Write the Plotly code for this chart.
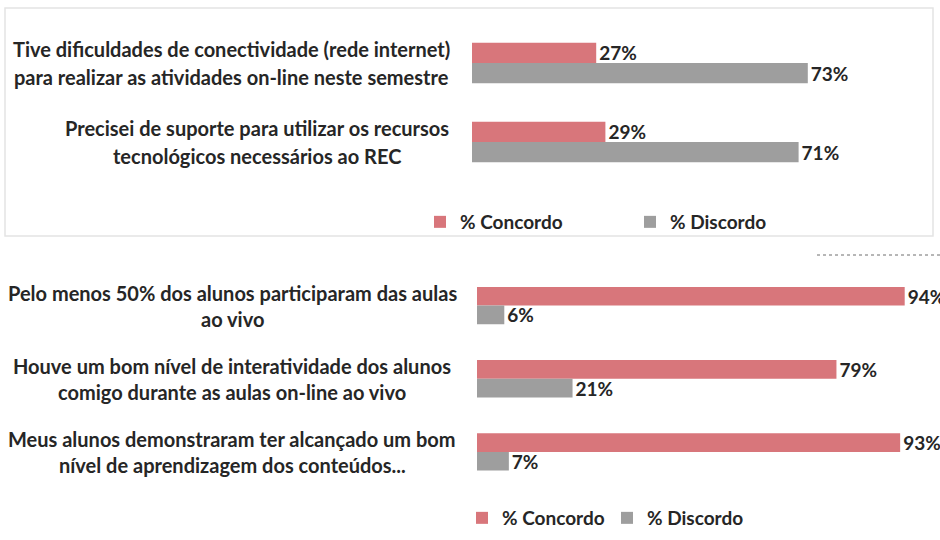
import plotly.graph_objects as go

# ---------------- data ----------------
series_names = ["% Concordo", "% Discordo"]

top_categories = [
    "Tive dificuldades de conectividade (rede internet)<br>para realizar as atividades on-line neste semestre",
    "Precisei de suporte para utilizar os recursos<br>tecnológicos necessários ao REC",
]
top_concordo = [27, 29]
top_discordo = [73, 71]

bottom_categories = [
    "Pelo menos 50% dos alunos participaram das aulas<br>ao vivo",
    "Houve um bom nível de interatividade dos alunos<br>comigo durante as aulas on-line ao vivo",
    "Meus alunos demonstraram ter alcançado um bom<br>nível de aprendizagem dos conteúdos...",
]
bottom_concordo = [94, 79, 93]
bottom_discordo = [6, 21, 7]

# ---------------- style ----------------
W, H = 940, 540
RED = "#D8767B"
GRAY = "#9E9E9E"
TXT = "#262626"
FONT = "Lato"

def fx(p):
    return p / W

def fy(p):
    return 1 - p / H

fig = go.Figure()

def add_bars(cats, conc, disc, xa, ya, legend):
    for name, vals, col in zip(series_names, [conc, disc], [RED, GRAY]):
        fig.add_trace(go.Bar(
            y=cats, x=vals, name=name, orientation="h",
            marker=dict(color=col, line=dict(width=0)),
            text=[f"{v}%" for v in vals], textposition="outside",
            textfont=dict(family=FONT, size=19, color=TXT, weight="bold"),
            cliponaxis=False, constraintext="none",
            xaxis=xa, yaxis=ya, legend=legend,
        ))

add_bars(top_categories, top_concordo, top_discordo, "x", "y", "legend")
add_bars(bottom_categories, bottom_concordo, bottom_discordo, "x2", "y2", "legend2")

# category labels (centered lines, block right aligned)
top_centers = [231, 257]
bottom_centers = [232, 232, 232]
for cats, centers, yref, dy in [(top_categories, top_centers, "y", 14),
                                (bottom_categories, bottom_centers, "y2", 13)]:
    for cat, cx in zip(cats, centers):
        lines = cat.split("<br>")
        n = len(lines)
        for i, line in enumerate(lines):
            off = (i - (n - 1) / 2) * 2 * dy
            fig.add_annotation(
                x=fx(cx), xref="paper", y=cat, yref=yref,
                text=line, showarrow=False, xanchor="center", yanchor="middle",
                yshift=-off,
                font=dict(family=FONT, size=20, color=TXT, weight="bold"),
            )

axis_hidden = dict(showgrid=False, zeroline=False, showticklabels=False,
                   showline=False, ticks="", fixedrange=True)

legend_font = dict(family=FONT, size=19, color=TXT, weight="bold")

fig.update_layout(
    width=W, height=H,
    margin=dict(l=0, r=0, t=0, b=0),
    paper_bgcolor="white", plot_bgcolor="white",
    barmode="group", bargap=0.49, bargroupgap=0,
    font=dict(family=FONT, color=TXT),
    xaxis=dict(domain=[fx(472), fx(932)], range=[0, 100], anchor="y", **axis_hidden),
    yaxis=dict(domain=[fy(181.5), fy(23.5)], autorange="reversed", anchor="x", **axis_hidden),
    xaxis2=dict(domain=[fx(477), fx(932)], range=[0, 100], anchor="y2", **axis_hidden),
    yaxis2=dict(domain=[fy(488.5), fy(269)], autorange="reversed", anchor="x2", **axis_hidden),
    legend=dict(orientation="h", x=fx(420), y=fy(222), xanchor="left", yanchor="middle",
                entrywidth=165, entrywidthmode="pixels", traceorder="normal",
                font=legend_font, bgcolor="rgba(0,0,0,0)", itemclick=False),
    legend2=dict(orientation="h", x=fx(462), y=fy(518), xanchor="left", yanchor="middle",
                 entrywidth=100, entrywidthmode="pixels", traceorder="normal",
                 font=legend_font, bgcolor="rgba(0,0,0,0)", itemclick=False),
    showlegend=True,
    shapes=[
        dict(type="rect", xref="paper", yref="paper", x0=fx(5), x1=fx(933), y0=fy(236), y1=fy(8),
             line=dict(color="#E4E4E4", width=1.5), layer="below"),
        dict(type="line", xref="paper", yref="paper", x0=fx(817), x1=fx(940), y0=fy(255), y1=fy(255),
             line=dict(color="#6E6E6E", width=1, dash="dot")),
    ],
)

fig.write_html(
    "out.html",
    config={"displayModeBar": False},
    post_script="document.body.style.margin='0';document.body.style.overflow='hidden';",
)
